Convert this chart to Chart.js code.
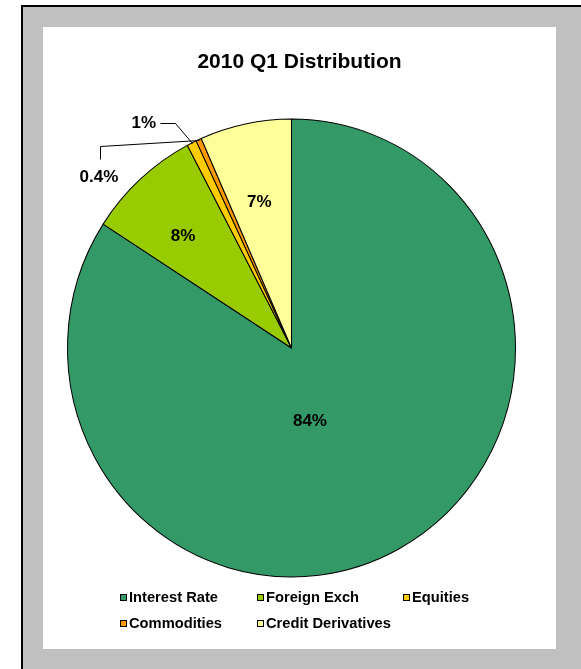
<!DOCTYPE html>
<html><head><meta charset="utf-8">
<script src="https://cdn.jsdelivr.net/npm/chart.js@4.4.0/dist/chart.umd.min.js"></script>
<style>
html,body{margin:0;padding:0;background:#fff;width:581px;height:669px;overflow:hidden}
#frame{position:absolute;left:21px;top:5px;width:558px;height:662px;background:#C0C0C0;border-left:2px solid #000;border-top:2px solid #000;}
#panel{position:absolute;left:43px;top:27px;width:513px;height:622px;background:#fff}
canvas{display:block}
</style></head><body>
<div id="frame"></div>
<div id="panel"><canvas id="c" width="513" height="622"></canvas></div>
<script>
// ---- data ----
const categories = ["Interest Rate", "Foreign Exch", "Equities", "Commodities", "Credit Derivatives"];
const shares = [84.1, 8.2, 0.7, 0.4, 6.6];
const shareLabels = ["84%", "8%", "1%", "0.4%", "7%"];
const sliceColors = ["#339966", "#99CC00", "#FFCC00", "#FF9900", "#FFFF99"];
const chartTitle = "2010 Q1 Distribution";

// ---- styling ----
const FONT = "'Liberation Sans', Arial, sans-serif";
const SY = 1.022; // slight vertical stretch of the pie (ellipse)
const insidePos = {0: {t: 0.546, rf: 0.325}, 1: {t: 0.43, rf: 0.69}, 4: {t: 0.47, rf: 0.658}};
const outsidePos = {
  2: {pts: [[0,0],[-16.5,-20],[-31.5,-20]], text: [-35.5,-20], align: 'right'},
  3: {pts: [[0,0],[-98.8,6.5],[-98.8,19.5]], text: [-99.8,37.5], align: 'center'}
};
const legendCols = [77, 214, 360];
const legendRows = [570, 596];

const ellipsePlugin = {
  id: 'ellipse',
  beforeDatasetsDraw(chart) {
    const arc = chart.getDatasetMeta(0).data[0];
    const ctx = chart.ctx;
    ctx.save();
    ctx.translate(arc.x, arc.y); ctx.scale(1, SY); ctx.translate(-arc.x, -arc.y);
  },
  afterDatasetsDraw(chart) {
    const ctx = chart.ctx;
    ctx.restore();
    const meta = chart.getDatasetMeta(0);
    ctx.save();
    ctx.fillStyle = '#000';
    ctx.strokeStyle = '#000';
    ctx.lineWidth = 1;
    ctx.font = "bold 17px " + FONT;
    ctx.textBaseline = 'middle';
    meta.data.forEach((arc, i) => {
      const p = arc.getProps(['x','y','startAngle','endAngle','outerRadius'], true);
      const lbl = shareLabels[i];
      if (insidePos[i]) {
        const o = insidePos[i];
        const a = p.startAngle + (p.endAngle - p.startAngle) * o.t;
        const r = p.outerRadius * o.rf;
        ctx.textAlign = 'center';
        ctx.fillText(lbl, p.x + r * Math.cos(a), p.y + SY * r * Math.sin(a) + 1);
      } else if (outsidePos[i]) {
        const o = outsidePos[i];
        const a = (p.startAngle + p.endAngle) / 2;
        const ex = p.x + p.outerRadius * Math.cos(a);
        const ey = p.y + SY * p.outerRadius * Math.sin(a);
        ctx.beginPath();
        o.pts.forEach((q, k) => {
          const X = Math.round(ex + q[0]) + 0.5, Y = Math.round(ey + q[1]) + 0.5;
          if (k === 0) ctx.moveTo(X, Y); else ctx.lineTo(X, Y);
        });
        ctx.stroke();
        ctx.textAlign = o.align;
        ctx.fillText(lbl, ex + o.text[0], ey + o.text[1]);
      }
    });
    ctx.restore();
  },
  afterDraw(chart) {
    const ctx = chart.ctx;
    ctx.save();
    ctx.fillStyle = '#000';
    ctx.font = "bold 21px " + FONT;
    ctx.textAlign = 'center';
    ctx.textBaseline = 'middle';
    ctx.fillText(chartTitle, chart.width / 2, 35);
    ctx.font = "bold 14.7px " + FONT;
    ctx.textAlign = 'left';
    chart.data.labels.forEach((name, i) => {
      const col = i % legendCols.length, row = Math.floor(i / legendCols.length);
      const x = legendCols[col], y = legendRows[row];
      ctx.fillStyle = chart.data.datasets[0].backgroundColor[i];
      ctx.fillRect(x, y - 3, 7, 7);
      ctx.strokeStyle = '#000';
      ctx.lineWidth = 1;
      ctx.strokeRect(x + 0.5, y - 2.5, 6, 6);
      ctx.fillStyle = '#000';
      ctx.fillText(name, x + 9, y + 1);
    });
    ctx.restore();
  }
};

new Chart(document.getElementById('c'), {
  type: 'pie',
  data: {
    labels: categories,
    datasets: [{
      data: shares,
      backgroundColor: sliceColors,
      borderColor: '#000',
      borderWidth: 1,
      radius: 224,
      clip: false,
      hoverOffset: 0
    }]
  },
  options: {
    responsive: false,
    animation: false,
    devicePixelRatio: 1,
    layout: {padding: {top: 95, bottom: 75, left: 0, right: 16}},
    plugins: {legend: {display: false}, title: {display: false}, tooltip: {enabled: false}}
  },
  plugins: [ellipsePlugin]
});
</script>
</body></html>
